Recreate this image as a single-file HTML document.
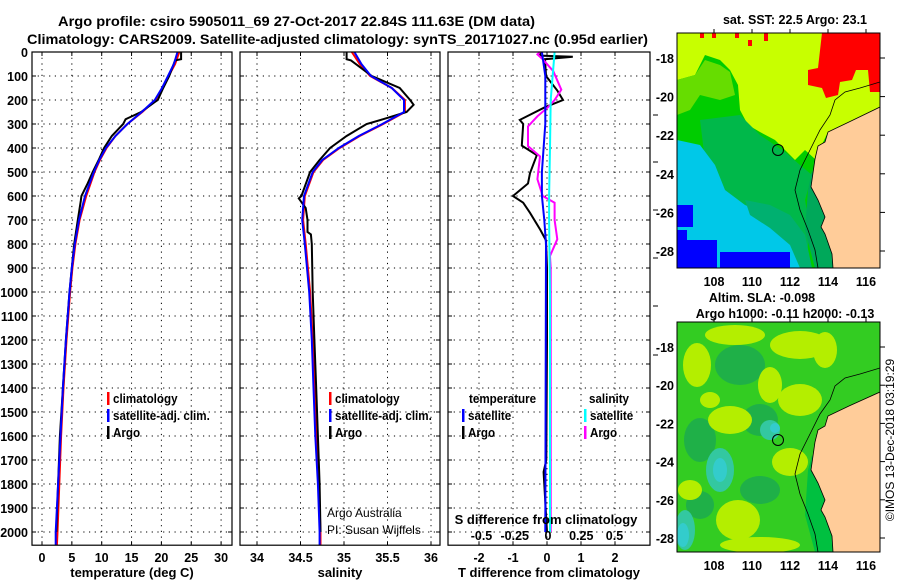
<!DOCTYPE html>
<html><head><meta charset="utf-8">
<style>
html,body{margin:0;padding:0;background:#fff;}
svg{display:block;font-family:"Liberation Sans",sans-serif;}
.b{font-weight:bold;}
</style></head>
<body>
<svg id="fig" width="900" height="580" viewBox="0 0 900 580" xmlns="http://www.w3.org/2000/svg">
<text class="b" x="58" y="26" font-size="14" textLength="477" lengthAdjust="spacingAndGlyphs">Argo profile: csiro 5905011_69 27-Oct-2017 22.84S 111.63E (DM data)</text>
<text class="b" x="27" y="44" font-size="14" textLength="621" lengthAdjust="spacingAndGlyphs">Climatology: CARS2009. Satellite-adjusted climatology: synTS_20171027.nc (0.95d earlier)</text>
<g id="panels"></g>

<!-- SST map -->
<g>
<text class="b" x="795" y="24" font-size="12.5" text-anchor="middle">sat. SST: 22.5 Argo: 23.1</text>
<svg x="677" y="33" width="203" height="235" viewBox="677 33 203 235" overflow="hidden">
<rect x="677" y="33" width="203" height="235" fill="#00cc00"/>
<polygon fill="#c8ff00" points="677,33 880,33 880,107 849,122 828,132 815,159 805,150 795,160 785,150 775,140 760,132 748,125 740,110 738,85 730,70 720,60 705,55 695,75 677,80"/>
<polygon fill="#66dd00" points="677,80 695,75 705,60 720,65 730,72 735,95 720,100 700,95 690,110 677,115"/>
<polygon fill="#00b84a" points="700,120 740,115 760,135 785,152 800,165 812,175 805,200 810,230 805,268 770,268 760,230 740,210 720,190 705,160"/>
<polygon fill="#00c8e8" points="677,140 700,145 715,165 725,190 745,205 770,215 790,230 800,250 805,268 677,268"/>
<polygon fill="#00b070" points="745,200 770,205 790,215 805,235 812,268 800,268 790,245 770,228 750,215"/>
<polygon fill="#00a85a" points="812,170 818,200 825,217 821,227 825,234 832,254 833,268 815,268 805,230 808,190"/>
<rect x="677" y="240" width="40" height="28" fill="#0000ff"/>
<rect x="720" y="252" width="70" height="16" fill="#0000ff"/>
<rect x="677" y="205" width="16" height="22" fill="#0000ff"/>
<rect x="677" y="230" width="10" height="10" fill="#0000ff"/>
<polygon fill="#ff0000" points="822,33 880,33 880,92 870,92 868,70 856,70 852,80 840,82 838,95 826,98 822,88 808,85 808,70 818,68"/>
<rect x="700" y="33" width="4" height="5" fill="#ff0000"/><rect x="712" y="33" width="4" height="5" fill="#ff0000"/><rect x="735" y="33" width="4" height="5" fill="#ff0000"/><rect x="748" y="40" width="4" height="6" fill="#ff0000"/><rect x="764" y="33" width="4" height="8" fill="#ff0000"/>
<polygon fill="#ffcc99" stroke="#000" stroke-width="0.8" points="880,107 849,122 828,132 825,142 818,146 815,159 813,173 811,187 818,200 825,217 821,227 825,234 832,254 833,268 880,268"/>
<polyline fill="none" stroke="#000" stroke-width="0.8" points="880,82 860,88 845,92 835,100 830,115 820,130 810,150 800,170 795,190 800,210 808,230 815,250 818,268"/>
<circle cx="778" cy="150" r="5.5" fill="none" stroke="#000" stroke-width="1"/>
</svg>
<rect x="677" y="33" width="203" height="235" fill="none" stroke="#000" stroke-width="1"/>
<g id="map1ticks"></g>
</g>

<!-- SLA map -->
<g>
<text class="b" x="762" y="302" font-size="12.5" text-anchor="middle">Altim. SLA: -0.098</text>
<text class="b" x="785" y="318" font-size="12.5" text-anchor="middle">Argo h1000: -0.11 h2000: -0.13</text>
<svg x="677" y="322" width="203" height="230" viewBox="677 322 203 230" overflow="hidden">
<rect x="677" y="322" width="203" height="230" fill="#33cc22"/>
<g fill="#1fb048">
<ellipse cx="740" cy="365" rx="25" ry="20"/>
<ellipse cx="760" cy="420" rx="18" ry="16"/>
<ellipse cx="700" cy="440" rx="16" ry="22"/>
<ellipse cx="760" cy="490" rx="20" ry="14"/>
<ellipse cx="700" cy="505" rx="14" ry="14"/>
</g>
<g fill="#b4ee00">
<ellipse cx="697" cy="365" rx="14" ry="22"/>
<ellipse cx="735" cy="335" rx="30" ry="10"/>
<ellipse cx="800" cy="345" rx="30" ry="14"/>
<ellipse cx="825" cy="350" rx="12" ry="18"/>
<ellipse cx="770" cy="385" rx="12" ry="18"/>
<ellipse cx="800" cy="400" rx="22" ry="16"/>
<ellipse cx="730" cy="420" rx="22" ry="14"/>
<ellipse cx="710" cy="400" rx="10" ry="8"/>
<ellipse cx="790" cy="462" rx="18" ry="14"/>
<ellipse cx="738" cy="520" rx="22" ry="20"/>
<ellipse cx="690" cy="490" rx="12" ry="10"/>
<ellipse cx="760" cy="545" rx="40" ry="8"/>
</g>
<g fill="#33c8a0">
<ellipse cx="770" cy="430" rx="10" ry="10"/>
<ellipse cx="720" cy="470" rx="14" ry="22"/>
<ellipse cx="685" cy="530" rx="10" ry="20"/>
</g>
<g fill="#33cccc">
<ellipse cx="775" cy="428" rx="5" ry="5"/>
<ellipse cx="720" cy="470" rx="7" ry="12"/>
<ellipse cx="683" cy="535" rx="6" ry="12"/>
</g>
<polygon fill="#00c040" points="812,455 818,480 825,500 821,510 825,518 832,536 833,552 815,552 805,515 808,470"/>
<polygon fill="#ffcc99" stroke="#000" stroke-width="0.8" points="880,392 849,406 828,416 825,426 818,430 815,442 813,456 811,470 818,483 825,500 821,510 825,517 832,536 833,552 880,552"/>
<polyline fill="none" stroke="#000" stroke-width="0.8" points="880,368 860,374 845,378 835,386 830,400 820,414 810,434 800,454 795,474 800,494 808,514 815,534 818,552"/>
<circle cx="778" cy="440" r="5.5" fill="none" stroke="#000" stroke-width="1"/>
</svg>
<rect x="677" y="322" width="203" height="230" fill="none" stroke="#000" stroke-width="1"/>
<g id="map2ticks"></g>
</g>
<text x="894" y="440" font-size="12" text-anchor="middle" transform="rotate(-90 894 440)">©IMOS 13-Dec-2018 03:19:29</text>
</svg>

<script>
// ---- data ----
const depthTicks = [0,100,200,300,400,500,600,700,800,900,1000,1100,1200,1300,1400,1500,1600,1700,1800,1900,2000];
const tempTicks = [0,5,10,15,20,25,30];
const salTicks = [34,34.5,35,35.5,36];
const salTickLabels = ["34","34.5","35","35.5","36"];
const tdiffTicks = [-2,-1,0,1,2];
const sdiffTicks = [-0.5,-0.25,0,0.25,0.5];
const sdiffTickLabels = ["-0.5","-0.25","0","0.25","0.5"];

const tClimDepth = [0,50,100,150,200,250,300,350,400,450,500,600,700,800,900,1000,1200,1400,1600,1800,2000,2055];
const tClim = [23.0,22.3,21.2,20.2,19.0,16.8,14.3,12.3,10.8,9.7,8.8,7.4,6.3,5.6,5.1,4.7,4.1,3.6,3.2,2.9,2.6,2.5];
const tSat = [22.7,22.1,21.1,20.1,18.9,16.7,14.3,12.3,10.7,9.6,8.7,7.2,6.2,5.5,5.0,4.6,4.0,3.5,3.1,2.7,2.3,2.3];
const tArgoDepth = [0,5,30,35,100,150,200,210,250,280,300,350,400,450,500,550,600,620,700,800,900,1000,1200,1400,1600,1800,2000];
const tArgo = [23.3,23.3,23.3,22.3,21.3,20.3,19.4,18.8,16.6,14.0,13.6,11.7,10.4,9.5,8.5,7.6,6.6,6.5,6.0,5.4,5.0,4.6,4.0,3.5,3.0,2.7,2.4];

const sClimDepth = [0,50,100,150,200,250,300,350,400,450,500,600,700,800,1000,1200,1400,1600,1800,2000,2055];
const sClim = [35.09,35.18,35.30,35.55,35.70,35.70,35.45,35.18,34.95,34.76,34.65,34.55,34.53,34.56,34.61,34.64,34.66,34.68,34.71,34.73,34.73];
const sSat = [35.12,35.20,35.31,35.55,35.69,35.69,35.44,35.17,34.94,34.75,34.64,34.54,34.52,34.55,34.60,34.63,34.65,34.67,34.70,34.72,34.72];
const sArgoDepth = [0,30,35,100,150,200,220,250,280,300,350,400,450,500,600,610,650,700,750,760,800,1000,1200,1400,1600,1800,2000];
const sArgo = [35.03,35.03,35.08,35.32,35.64,35.76,35.80,35.72,35.45,35.26,35.03,34.84,34.72,34.61,34.51,34.48,34.56,34.58,34.58,34.62,34.63,34.64,34.66,34.68,34.70,34.72,34.73];

const dTArgoDepth = [0,15,20,30,100,160,200,230,283,300,390,430,505,548,600,628,670,740,785,900,1200,1700,1750,2000];
const dTArgo = [-0.2,-0.2,0.76,-0.06,-0.03,0.3,0.47,-0.06,-0.8,-0.7,-0.74,-0.3,-0.5,-0.56,-1.0,-0.7,-0.5,-0.2,-0.03,0,0,-0.02,-0.1,0];
const dTSatDepth = [0,50,100,300,400,500,600,700,800,2000];
const dTSat = [-0.15,-0.1,-0.05,-0.05,-0.1,-0.15,-0.15,-0.08,-0.03,-0.05];
const dSArgoDepth = [0,10,30,80,157,200,230,268,310,392,435,530,600,628,700,780,850,900,1400,2000];
const dSArgo = [-0.06,-0.08,-0.04,0.04,0.1,0.05,0,-0.08,-0.15,-0.15,-0.06,-0.08,-0.04,0.05,0.05,0.07,0.015,0.02,0.02,0.02];
const dSSatDepth = [0,200,400,600,700,1000,2000];
const dSSat = [0.05,0.02,0.015,0.008,0.008,0.015,0.015];

const latTicks = [-18,-20,-22,-24,-26,-28];
const lonTicks = [108,110,112,114,116];

// ---- drawing ----
const NS = "http://www.w3.org/2000/svg";
const root = document.getElementById('panels');
function mk(tag, attrs, parent){ const e=document.createElementNS(NS,tag); for(const k in attrs) e.setAttribute(k,attrs[k]); (parent||root).appendChild(e); return e; }
const Y0=52, YS=0.24, DMAX=2055;
function yScale(d){ return Y0 + d*YS; }
const YB = yScale(DMAX);

function makeX(px0,v0,pxPerUnit){ return v=> px0 + (v-v0)*pxPerUnit; }
const xT = makeX(42,0,5.97);
const xS = makeX(257,34,87);
const xdT = makeX(547,0,34);
const xdS = makeX(548,0,133);

function panelFrame(name,x0,x1,xticks,xs,labels,title){
  const g = mk('g',{});
  
  
  depthTicks.forEach(d=>{
    const l = mk('line',{x1:x0,x2:x1,y1:yScale(d),y2:yScale(d),stroke:'#000','stroke-width':1,'stroke-dasharray':'1.2,4.5'},g);
    
    
    mk('line',{x1:x0,x2:x0+4,y1:yScale(d),y2:yScale(d),stroke:'#000'},g);
    mk('line',{x1:x1-4,x2:x1,y1:yScale(d),y2:yScale(d),stroke:'#000'},g);
  });
  xticks.forEach((v,i)=>{
    const x=xs(v);
    const l = mk('line',{x1:x,x2:x,y1:Y0,y2:YB,stroke:'#000','stroke-width':1,'stroke-dasharray':'1.2,4.5'},g);
    
    
    mk('line',{x1:x,x2:x,y1:YB-4,y2:YB,stroke:'#000'},g);
    mk('line',{x1:x,x2:x,y1:Y0,y2:Y0+4,stroke:'#000'},g);
    const t = mk('text',{x:x,y:562,'font-size':12.5,'text-anchor':'middle','class':'b'},g);
    
    
    t.textContent = labels[i];
  });
  const tt = mk('text',{x:(x0+x1)/2,y:577,'font-size':13,'text-anchor':'middle','class':'b'},g);
  
  
  tt.textContent = title;
  return g;
}
function series(name,vals,depths,xs,color,w){
  const pts = vals.map((v,i)=> xs(v).toFixed(1)+','+yScale(depths[i]).toFixed(1)).join(' ');
  const p = mk('polyline',{points:pts,fill:'none',stroke:color,'stroke-width':w||2,'stroke-linejoin':'miter'});
  
  
}
function frameRect(x0,x1){ mk('rect',{x:x0,y:Y0,width:x1-x0,height:YB-Y0,fill:'none',stroke:'#000','stroke-width':1.2}); }
function legendEntry(name,x,y,color,label){
  const g = mk('g',{});
  
  
  if(color) mk('rect',{x:x,y:y-11,width:2.5,height:13,fill:color},g);
  const t = mk('text',{x:x+6,y:y,'font-size':12.5,'class':'b',transform:'translate('+(x+6)+' 0) scale(0.93 1) translate('+(-(x+6))+' 0)'},g);
  t.textContent = label;
}

// y tick labels
depthTicks.forEach(d=>{
  const t = mk('text',{x:28,y:yScale(d)+5,'font-size':12.5,'text-anchor':'end','class':'b'});
  
  
  t.textContent = d;
});

// Panel 1 temperature
panelFrame('temperature-panel',32,232,tempTicks,xT,tempTicks.map(String),'temperature (deg C)');
series('temp-climatology-line',tClim,tClimDepth,xT,'#ff0000');
series('temp-argo-line',tArgo,tArgoDepth,xT,'#000');
series('temp-satellite-line',tSat,tClimDepth,xT,'#0000ff');
frameRect(32,232);
legendEntry('legend-climatology',107,403,'#ff0000','climatology');
legendEntry('legend-satellite-adj',107,420,'#0000ff','satellite-adj. clim.');
legendEntry('legend-argo',107,437,'#000','Argo');

// Panel 2 salinity
panelFrame('salinity-panel',240,440,salTicks,xS,salTickLabels,'salinity');
series('sal-climatology-line',sClim,sClimDepth,xS,'#ff0000');
series('sal-argo-line',sArgo,sArgoDepth,xS,'#000');
series('sal-satellite-line',sSat,sClimDepth,xS,'#0000ff');
frameRect(240,440);
legendEntry('legend-sal-climatology',329,403,'#ff0000','climatology');
legendEntry('legend-sal-satellite-adj',329,420,'#0000ff','satellite-adj. clim.');
legendEntry('legend-sal-argo',329,437,'#000','Argo');
const cr1 = mk('text',{x:327,y:517,'font-size':12});


cr1.textContent='Argo Australia';
const cr2 = mk('text',{x:327,y:534,'font-size':12});


cr2.textContent='PI: Susan Wijffels';

// Panel 3 differences
panelFrame('difference-panel',448,650,tdiffTicks,xdT,tdiffTicks.map(String),'T difference from climatology');
series('tdiff-argo-line',dTArgo,dTArgoDepth,xdT,'#000');
series('sdiff-argo-line',dSArgo,dSArgoDepth,xdS,'#ff00ff');
series('tdiff-satellite-line',dTSat,dTSatDepth,xdT,'#0000ff');
series('sdiff-satellite-line',dSSat,dSSatDepth,xdS,'#00ffff');
frameRect(448,650);
[115,162,210,258,306,355].forEach(y=>mk('line',{x1:653,x2:658,y1:y,y2:y,stroke:'#000'}));
sdiffTicks.forEach((v,i)=>{
  const t = mk('text',{x:xdS(v),y:540,'font-size':12.5,'text-anchor':'middle','class':'b'});
  
  
  t.textContent = sdiffTickLabels[i];
});
const sdt = mk('text',{x:546,y:524,'font-size':13,'text-anchor':'middle','class':'b'});


sdt.textContent='S difference from climatology';
legendEntry('legend-temperature-header',463,403,null,'temperature');
legendEntry('legend-tdiff-satellite',462,420,'#0000ff','satellite');
legendEntry('legend-tdiff-argo',462,437,'#000','Argo');
legendEntry('legend-salinity-header',583,403,null,'salinity');
legendEntry('legend-sdiff-satellite',584,420,'#00ffff','satellite');
legendEntry('legend-sdiff-argo',584,437,'#ff00ff','Argo');

// map ticks
function mapTicks(gid,top,bottom,latY0,latStep){
  const g=document.getElementById(gid);
  latTicks.forEach((lat,i)=>{
    const y = latY0 + i*latStep;
    mk('line',{x1:880,x2:885,y1:y,y2:y,stroke:'#000'},g);
    const t = mk('text',{x:674,y:y+5,'font-size':12.5,'text-anchor':'end','class':'b'},g);
    
    
    t.textContent = lat;
  });
  lonTicks.forEach(lon=>{
    const x = 714 + (lon-108)*19;
    mk('line',{x1:x,x2:x,y1:top-4,y2:top,stroke:'#000'},g);
    const t = mk('text',{x:x,y:bottom+18,'font-size':12.5,'text-anchor':'middle','class':'b'},g);
    
    
    t.textContent = lon;
  });
}
mapTicks('map1ticks',33,268,58,38.6);
mapTicks('map2ticks',322,552,347,38.2);
</script>
</body></html>
